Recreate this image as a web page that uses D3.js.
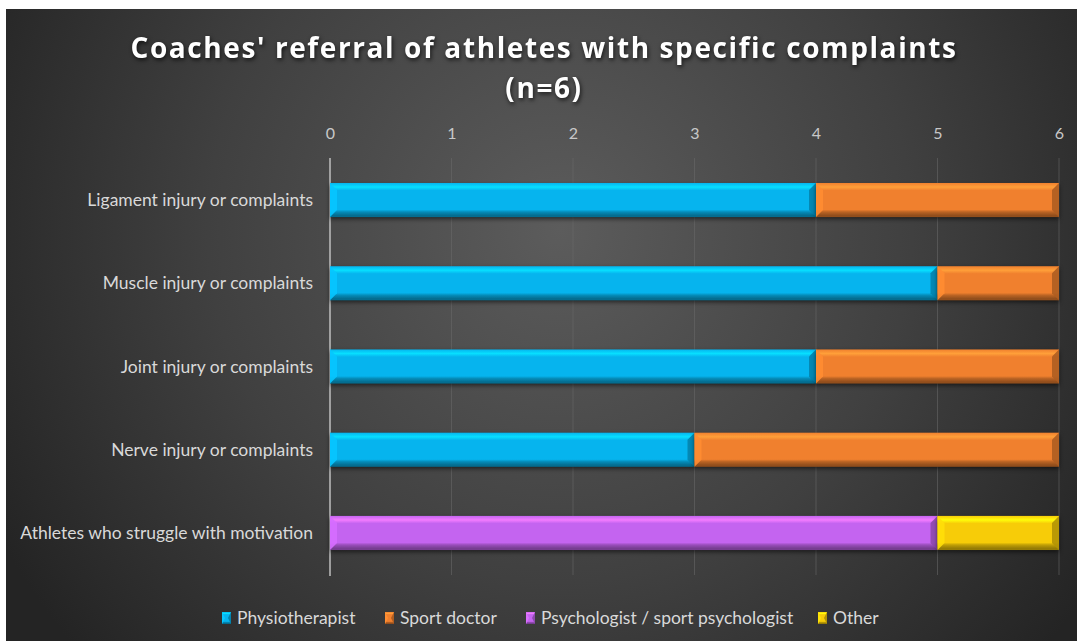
<!DOCTYPE html>
<html><head><meta charset="utf-8">
<script src="https://cdn.jsdelivr.net/npm/d3@7"></script>
<style>
html,body{margin:0;padding:0;background:#fff;}
svg{display:block;}
text{font-family:Lato,"Open Sans",sans-serif;}
</style></head>
<body>
<svg id="chart" width="1079" height="641"></svg>
<script>
const categories = ["Ligament injury or complaints","Muscle injury or complaints","Joint injury or complaints","Nerve injury or complaints","Athletes who struggle with motivation"];
const seriesNames = ["Physiotherapist","Sport doctor","Psychologist / sport psychologist","Other"];
const physiotherapist = [4,5,4,3,0];
const sportDoctor = [2,1,2,3,0];
const psychologist = [0,0,0,0,5];
const other = [0,0,0,0,1];
const tickValues = [0,1,2,3,4,5,6];
const colors = ["#06b4ee","#f0802e","#c464f0","#f7cc08"];

const svg = d3.select("#chart");
const defs = svg.append("defs");
const bg = defs.append("radialGradient").attr("id","bg").attr("gradientUnits","userSpaceOnUse")
  .attr("cx",560).attr("cy",230).attr("r",640);
bg.append("stop").attr("offset","0").attr("stop-color","#5c5c5c");
bg.append("stop").attr("offset","0.55").attr("stop-color","#404040");
bg.append("stop").attr("offset","1").attr("stop-color","#242424");
svg.append("rect").attr("x",6).attr("y",9).attr("width",1071).attr("height",632).attr("fill","url(#bg)");

colors.forEach((c,i)=>{
  const g = defs.append("linearGradient").attr("id","g"+i).attr("x1",0).attr("y1",0).attr("x2",0).attr("y2",1);
  const lc = d3.color(c).brighter(0.6), dc = d3.color(c).darker(0.7), ddc = d3.color(c).darker(1.4);
  [[0,c],[0.12,lc],[0.22,c],[0.78,c],[0.85,dc],[0.95,ddc],[1,ddc]].forEach(s=>g.append("stop").attr("offset",s[0]).attr("stop-color",s[1]));
});

const title = svg.append("text").attr("x",544).attr("text-anchor","middle")
  .attr("fill","#ffffff").attr("font-size",28).attr("font-weight","bold").attr("letter-spacing","1.6")
  .style("font-family","'Open Sans',sans-serif")
  .style("filter","drop-shadow(1px 2px 2px rgba(0,0,0,0.7))");
title.append("tspan").attr("x",544).attr("y",58).text("Coaches' referral of athletes with specific complaints");
title.append("tspan").attr("x",544).attr("y",98).text("(n=6)");

const x = d3.scaleLinear().domain([0,6]).range([330,1059]);
const y = d3.scaleBand().domain(categories).range([158,575]).paddingInner(0.59).paddingOuter(0.3);

// gridlines
svg.append("g").selectAll("line").data(tickValues.slice(1)).join("line")
  .attr("x1",d=>x(d)).attr("x2",d=>x(d)).attr("y1",158).attr("y2",575)
  .attr("stroke","#6a6a6a").attr("stroke-opacity",0.55).attr("stroke-width",1);

// top axis
const xAxis = svg.append("g").attr("transform","translate(0,142)")
  .call(d3.axisTop(x).tickValues(tickValues).tickFormat(d3.format("d")).tickSize(0));
xAxis.select(".domain").remove();
xAxis.selectAll("text").attr("fill","#c8c8c8").attr("font-size",16).style("font-family","Lato,sans-serif");

// y axis line
svg.append("line").attr("x1",x(0)).attr("x2",x(0)).attr("y1",158).attr("y2",576).attr("stroke","#bfbfbf").attr("stroke-width",1.5);

// category labels
svg.append("g").selectAll("text").data(categories).join("text")
  .attr("x",313).attr("y",d=>y(d)+y.bandwidth()/2).attr("dy","0.35em").attr("text-anchor","end")
  .attr("fill","#d9d9d9").attr("font-size",17.5).text(d=>d);

// stacked data
const rows = categories.map((c,i)=>({cat:c, s0:physiotherapist[i], s1:sportDoctor[i], s2:psychologist[i], s3:other[i]}));
const stack = d3.stack().keys(["s0","s1","s2","s3"])(rows);

const bh = y.bandwidth();
const bv = 7;
stack.forEach((layer,li)=>{
  const g = svg.append("g");
  layer.forEach(d=>{
    if (d[1]-d[0] <= 0) return;
    const x0 = x(d[0]), x1 = x(d[1]), y0 = y(d.data.cat), y1 = y0+bh;
    g.append("rect").attr("x",x0).attr("y",y0).attr("width",x1-x0).attr("height",bh)
      .attr("fill","url(#g"+li+")")
      .style("filter","drop-shadow(0px 2px 2px rgba(0,0,0,0.55))");
    g.append("path").attr("d",`M${x0},${y0}L${x0+bv},${y0+bv}L${x0+bv},${y1-bv}L${x0},${y1}Z`)
      .attr("fill",d3.color(colors[li]).brighter(0.25)).attr("opacity",0.9);
    g.append("path").attr("d",`M${x1},${y0}L${x1-bv},${y0+bv}L${x1-bv},${y1-bv}L${x1},${y1}Z`)
      .attr("fill",d3.color(colors[li]).darker(0.9)).attr("opacity",0.9);
  });
});

// legend
const legendX = [222,385,526,818];
const lg = svg.append("g");
seriesNames.forEach((n,i)=>{
  const lx = legendX[i], ly = 618;
  lg.append("rect").attr("x",lx).attr("y",ly-6).attr("width",9).attr("height",12).attr("fill","url(#g"+i+")");
  lg.append("path").attr("d",`M${lx},${ly-6}L${lx+3},${ly}L${lx},${ly+6}Z`).attr("fill",d3.color(colors[i]).brighter(0.3));
  lg.append("path").attr("d",`M${lx+9},${ly-6}L${lx+6},${ly}L${lx+9},${ly+6}Z`).attr("fill",d3.color(colors[i]).darker(0.9));
  lg.append("text").attr("x",lx+15).attr("y",ly).attr("dy","0.35em").attr("fill","#d9d9d9").attr("font-size",17.5).text(n);
});
</script>
</body></html>
